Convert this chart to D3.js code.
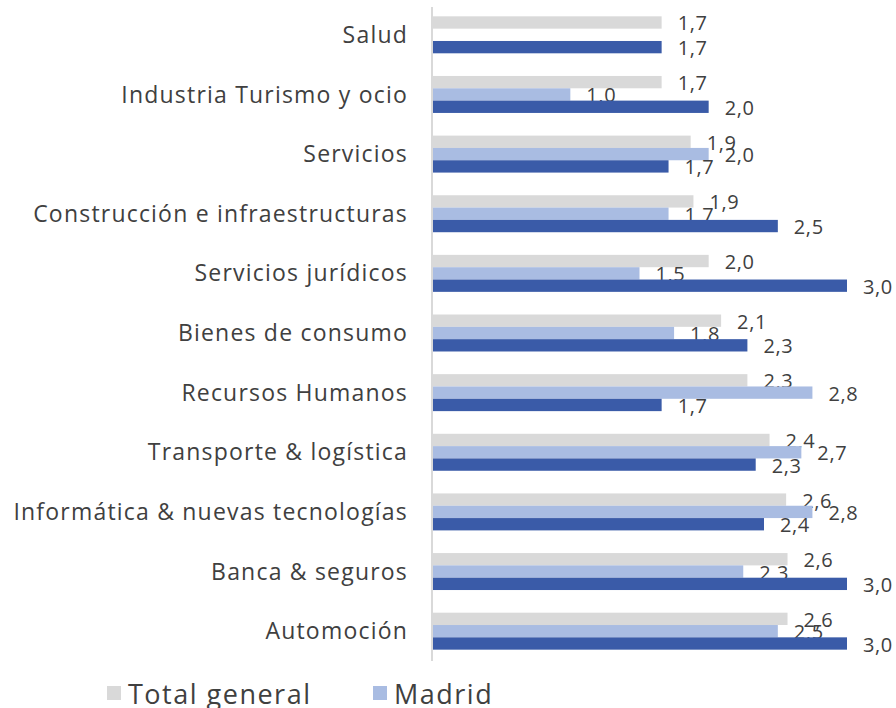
<!DOCTYPE html>
<html lang="es">
<head>
<meta charset="utf-8">
<title>Sectores</title>
<script src="https://d3js.org/d3.v7.min.js"></script>
<style>
  body { margin: 0; background: #fff; }
  text { font-family: "Open Sans", sans-serif; fill: #404040; }
</style>
</head>
<body>
<div id="chart"></div>
<script>
// data (top to bottom)
var categories = ["Salud", "Industria Turismo y ocio", "Servicios", "Construcción e infraestructuras",
  "Servicios jurídicos", "Bienes de consumo", "Recursos Humanos", "Transporte & logística",
  "Informática & nuevas tecnologías", "Banca & seguros", "Automoción"];
var totalGeneral = [1.66, 1.66, 1.87, 1.89, 2.00, 2.09, 2.28, 2.44, 2.56, 2.57, 2.57];
var madrid       = [null, 1.00, 2.00, 1.71, 1.50, 1.75, 2.75, 2.67, 2.75, 2.25, 2.50];
var tercera      = [1.66, 2.00, 1.71, 2.50, 3.00, 2.28, 1.66, 2.34, 2.40, 3.00, 3.00];
var seriesNames = ["Total general", "Madrid", ""];
var colors = ["#d9d9d9", "#a9bce2", "#3a5ba8"];

var width = 896, height = 708;
var svg = d3.select("#chart").append("svg")
  .attr("width", width).attr("height", height);

var x = d3.scaleLinear().domain([0, 3]).range([432, 847]);
var y = d3.scaleBand().domain(categories).range([5, 661])
  .paddingInner(0.38).paddingOuter(0.19);
var inner = d3.scaleBand().domain([0, 1, 2]).range([0, y.bandwidth()]);

var fmt = function(v) { return d3.format(".1f")(v).replace(".", ","); };

var series = [totalGeneral, madrid, tercera];

// axis line
svg.append("line")
  .attr("x1", x(0)).attr("x2", x(0))
  .attr("y1", 7).attr("y2", 661)
  .attr("stroke", "#d9d9d9").attr("stroke-width", 2);

// category labels
svg.append("g").selectAll("text")
  .data(categories)
  .enter().append("text")
    .attr("x", 408)
    .attr("y", function(d) { return y(d) + y.bandwidth() / 2; })
    .attr("dy", "0.35em")
    .attr("text-anchor", "end")
    .style("font-size", "23px")
    .style("letter-spacing", "1.2px")
    .text(function(d) { return d; });

// bars + labels
series.forEach(function(vals, s) {
  var data = categories.map(function(c, i) { return {c: c, v: vals[i]}; })
    .filter(function(d) { return d.v != null; });
  var g = svg.append("g");
  g.selectAll("rect")
    .data(data)
    .enter().append("rect")
      .attr("x", x(0) + 1)
      .attr("y", function(d) { return y(d.c) + inner(s); })
      .attr("width", function(d) { return x(d.v) - x(0) - 1; })
      .attr("height", inner.bandwidth())
      .attr("fill", colors[s]);
  g.selectAll("text")
    .data(data)
    .enter().append("text")
      .attr("x", function(d) { return x(d.v) + 16; })
      .attr("y", function(d) { return y(d.c) + inner(s) + inner.bandwidth() / 2 + 1; })
      .attr("dy", "0.35em")
      .style("font-size", "20px")
      .style("letter-spacing", "0.6px")
      .text(function(d) { return fmt(d.v); });
});

// legend (third entry falls below the visible area)
var legend = svg.append("g").selectAll("g")
  .data([0, 1])
  .enter().append("g")
    .attr("transform", function(d) { return "translate(" + (107 + d * 266) + ",0)"; });
legend.append("rect")
  .attr("y", 686).attr("width", 14).attr("height", 14)
  .attr("fill", function(d) { return colors[d]; });
legend.append("text")
  .attr("x", 21).attr("y", 704)
  .style("font-size", "27px")
  .style("letter-spacing", "1.5px")
  .text(function(d) { return seriesNames[d]; });
</script>
</body>
</html>
